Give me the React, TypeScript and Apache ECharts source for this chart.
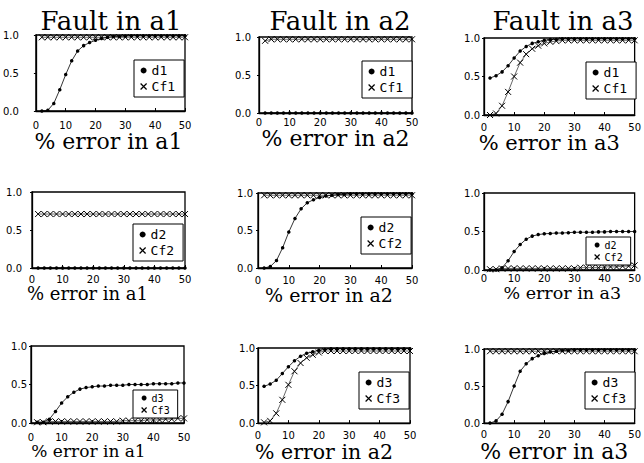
import React, { useEffect, useRef } from "react";
import * as echarts from "echarts";

// % error (x positions of the samples)
const X = [2, 4, 6, 8, 10, 12, 14, 16, 18, 20, 22, 24, 26, 28, 30, 32, 34, 36, 38, 40, 42, 44, 46, 48, 50];

// Row 1 : d1 / Cf1
const A1_D1 = [0.0, 0.01, 0.1, 0.28, 0.48, 0.66, 0.79, 0.86, 0.9, 0.93, 0.955, 0.97, 0.98, 0.98, 0.985, 0.99, 0.99, 0.99, 0.99, 0.99, 0.99, 0.99, 0.99, 0.99, 0.99];
const A1_CF1 = [0.97, 0.97, 0.97, 0.97, 0.97, 0.97, 0.97, 0.97, 0.97, 0.97, 0.97, 0.97, 0.97, 0.97, 0.97, 0.97, 0.97, 0.97, 0.97, 0.97, 0.97, 0.97, 0.97, 0.97, 0.97];
const A2_D1 = [0, 0, 0, 0, 0, 0, 0, 0, 0, 0, 0, 0, 0, 0, 0, 0, 0, 0, 0, 0, 0, 0, 0, 0, 0];
const A2_CF1 = [0.95, 0.97, 0.97, 0.97, 0.97, 0.97, 0.97, 0.97, 0.97, 0.97, 0.97, 0.97, 0.97, 0.97, 0.97, 0.97, 0.97, 0.97, 0.97, 0.97, 0.97, 0.97, 0.97, 0.97, 0.97];
const A3_D1 = [0.48, 0.51, 0.56, 0.64, 0.74, 0.83, 0.89, 0.93, 0.95, 0.97, 0.98, 0.98, 0.99, 0.99, 0.99, 0.99, 0.99, 0.99, 0.99, 0.99, 0.99, 0.99, 0.99, 0.99, 0.99];
const A3_CF1 = [0.0, 0.02, 0.12, 0.3, 0.5, 0.68, 0.79, 0.86, 0.9, 0.93, 0.95, 0.96, 0.97, 0.97, 0.97, 0.97, 0.97, 0.97, 0.97, 0.97, 0.97, 0.97, 0.97, 0.97, 0.97];

// Row 2 : d2 / Cf2
const A1_D2 = [0, 0, 0, 0, 0, 0, 0, 0, 0, 0, 0, 0, 0, 0, 0, 0, 0, 0, 0, 0, 0, 0, 0, 0, 0];
const A1_CF2 = [0.71, 0.71, 0.71, 0.71, 0.71, 0.71, 0.71, 0.71, 0.71, 0.71, 0.71, 0.71, 0.71, 0.71, 0.71, 0.71, 0.71, 0.71, 0.71, 0.71, 0.71, 0.71, 0.71, 0.71, 0.71];
const A2_D2 = [0.0, 0.02, 0.1, 0.27, 0.48, 0.66, 0.79, 0.87, 0.91, 0.94, 0.96, 0.97, 0.98, 0.98, 0.99, 0.99, 0.99, 0.99, 0.99, 0.99, 0.99, 0.99, 0.99, 0.99, 0.99];
const A2_CF2 = [0.97, 0.97, 0.97, 0.97, 0.97, 0.97, 0.97, 0.97, 0.97, 0.97, 0.97, 0.97, 0.97, 0.97, 0.97, 0.97, 0.97, 0.97, 0.97, 0.97, 0.97, 0.97, 0.97, 0.97, 0.97];
const A3_D2 = [0.0, 0.0, 0.03, 0.12, 0.24, 0.33, 0.4, 0.44, 0.46, 0.47, 0.475, 0.48, 0.48, 0.485, 0.49, 0.49, 0.49, 0.49, 0.495, 0.495, 0.5, 0.5, 0.5, 0.5, 0.5];
const A3_CF2 = [0.01, 0.01, 0.02, 0.02, 0.02, 0.02, 0.02, 0.02, 0.02, 0.02, 0.02, 0.02, 0.02, 0.02, 0.02, 0.03, 0.03, 0.03, 0.03, 0.04, 0.04, 0.04, 0.05, 0.05, 0.06];

// Row 3 : d3 / Cf3
const A1_D3 = [0.01, 0.01, 0.05, 0.15, 0.26, 0.34, 0.4, 0.44, 0.46, 0.47, 0.48, 0.48, 0.49, 0.49, 0.49, 0.5, 0.5, 0.5, 0.5, 0.51, 0.51, 0.51, 0.51, 0.52, 0.52];
const A1_CF3 = [0.01, 0.01, 0.02, 0.02, 0.02, 0.02, 0.02, 0.02, 0.02, 0.02, 0.02, 0.02, 0.02, 0.02, 0.03, 0.03, 0.03, 0.03, 0.04, 0.04, 0.04, 0.05, 0.05, 0.06, 0.06];
const A2_D3 = [0.49, 0.52, 0.57, 0.66, 0.75, 0.83, 0.89, 0.93, 0.95, 0.97, 0.98, 0.99, 0.99, 0.99, 0.99, 0.99, 0.99, 0.99, 0.99, 0.99, 0.99, 0.99, 0.99, 0.99, 0.99];
const A2_CF3 = [0.01, 0.03, 0.13, 0.31, 0.51, 0.69, 0.8, 0.87, 0.91, 0.94, 0.96, 0.96, 0.96, 0.96, 0.96, 0.96, 0.96, 0.96, 0.96, 0.96, 0.96, 0.96, 0.96, 0.96, 0.96];
const A3_D3 = [0.0, 0.03, 0.12, 0.29, 0.5, 0.7, 0.8, 0.87, 0.91, 0.94, 0.96, 0.97, 0.98, 0.98, 0.99, 0.99, 0.99, 0.99, 0.99, 0.99, 0.99, 0.99, 0.99, 0.99, 0.99];
const A3_CF3 = [0.97, 0.97, 0.97, 0.97, 0.97, 0.97, 0.97, 0.97, 0.97, 0.97, 0.97, 0.97, 0.97, 0.97, 0.97, 0.97, 0.97, 0.97, 0.97, 0.97, 0.97, 0.97, 0.97, 0.97, 0.97];

const TITLES = ["Fault in a1", "Fault in a2", "Fault in a3"];
const X_NAMES = ["% error in a1", "% error in a2", "% error in a3"];
const D_NAMES = ["d1", "d2", "d3"];
const CF_NAMES = ["Cf1", "Cf2", "Cf3"];
const D_DATA = [
  [A1_D1, A2_D1, A3_D1],
  [A1_D2, A2_D2, A3_D2],
  [A1_D3, A2_D3, A3_D3],
];
const CF_DATA = [
  [A1_CF1, A2_CF1, A3_CF1],
  [A1_CF2, A2_CF2, A3_CF2],
  [A1_CF3, A2_CF3, A3_CF3],
];

// layout per panel (row-major): grid box, legend corner, label margins, axis-name gap/size/shift, legend font
const LAYOUT = [
  { g: [32, 35, 153, 76], lg: [134, 60], ym: 17, xm: 9, ng: 23, nf: 22, nx: -2, lf: 13 },
  { g: [259, 37, 153, 76], lg: [362, 61], ym: 8, xm: 4, ng: 21, nf: 22, nx: 0, lf: 13 },
  { g: [484, 38, 156, 77], lg: [586, 62], ym: 4, xm: 7, ng: 20, nf: 21, nx: -10, lf: 13 },
  { g: [32, 192, 153, 76], lg: [133, 224], ym: 10, xm: 6, ng: 25, nf: 18, nx: -21, lf: 13 },
  { g: [258, 193, 154, 75], lg: [361, 217], ym: 5, xm: 7, ng: 24, nf: 19, nx: -6, lf: 13 },
  { g: [484, 193, 154, 77], lg: [586, 237], ym: 4, xm: 3, ng: 20, nf: 17.5, nx: 3, lf: 10 },
  { g: [31, 346, 153, 77], lg: [133, 390], ym: 4, xm: 9, ng: 24, nf: 17, nx: -19, lf: 10 },
  { g: [258, 348, 152, 78], lg: [359, 372], ym: 3, xm: 7, ng: 24, nf: 20.5, nx: -10, lf: 13 },
  { g: [484, 349, 151, 78], lg: [585, 372], ym: 4, xm: 6, ng: 20, nf: 22, nx: -5, lf: 13 },
];
const TITLE_X = [111, 340, 563];

const CROSS = "path://M0,0L10,10M10,0L0,10";

export default function App() {
  const ref = useRef<HTMLDivElement>(null);
  useEffect(() => {
    if (!ref.current) return;
    const chart = echarts.init(ref.current, null, { renderer: "svg" });
    const grid: any[] = [];
    const xAxis: any[] = [];
    const yAxis: any[] = [];
    const series: any[] = [];
    const legend: any[] = [];
    for (let r = 0; r < 3; r++) {
      for (let c = 0; c < 3; c++) {
        const i = r * 3 + c;
        const L = LAYOUT[i];
        grid.push({
          left: L.g[0], top: L.g[1], width: L.g[2], height: L.g[3],
          show: true, borderColor: "#000", borderWidth: 1.3, backgroundColor: "transparent",
        });
        const shift = L.nx;
        xAxis.push({
          type: "value", gridIndex: i, min: 0, max: 50, interval: 10,
          axisLine: { show: true, lineStyle: { color: "#000", width: 1.3 } },
          axisTick: { show: true, inside: true, length: 3, lineStyle: { color: "#000" } },
          splitLine: { show: false },
          axisLabel: { color: "#000", fontFamily: "DejaVu Sans", fontSize: 10, margin: L.xm },
          name: X_NAMES[c], nameLocation: "middle", nameGap: L.ng,
          nameTextStyle: {
            fontFamily: "DejaVu Serif", fontSize: L.nf, color: "#000", verticalAlign: "middle",
            padding: shift < 0 ? [0, -2 * shift, 0, 0] : [0, 0, 0, 2 * shift],
          },
        });
        yAxis.push({
          type: "value", gridIndex: i, min: 0, max: 1, interval: 0.5,
          axisLine: { show: true, lineStyle: { color: "#000", width: 1.3 } },
          axisTick: { show: true, inside: false, length: 2, lineStyle: { color: "#000" } },
          splitLine: { show: false },
          axisLabel: {
            color: "#000", fontFamily: "DejaVu Sans", fontSize: 10, margin: L.ym,
            formatter: (v: number) => v.toFixed(1),
          },
        });
        const dn = D_NAMES[r];
        const cn = CF_NAMES[r];
        series.push({
          type: "line", name: dn, xAxisIndex: i, yAxisIndex: i,
          data: X.map((x, j) => [x, D_DATA[r][c][j]]),
          symbol: "circle", symbolSize: 3.5, showSymbol: true,
          lineStyle: { color: "#000", width: 0.8 },
          itemStyle: { color: "#000" },
          z: 3,
        });
        series.push({
          type: "line", name: cn, xAxisIndex: i, yAxisIndex: i,
          data: X.map((x, j) => [x, CF_DATA[r][c][j]]),
          symbol: CROSS, symbolSize: 6, showSymbol: true,
          lineStyle: { color: "#000", width: 0.6 },
          itemStyle: { color: "#000", borderColor: "#000", borderWidth: 1 },
          z: 2,
        });
        const small = L.lf < 12;
        legend.push({
          orient: "vertical", left: L.lg[0], top: L.lg[1],
          padding: small ? [3, 8, 3, 8] : [4, 9, 4, 6], itemGap: small ? 2 : 3,
          itemWidth: small ? 5 : 6, itemHeight: small ? 5 : 6,
          backgroundColor: "#fff", borderColor: "#000", borderWidth: 1, borderRadius: 0,
          selectedMode: false,
          textStyle: { fontFamily: "DejaVu Sans Mono", fontSize: L.lf, color: "#000" },
          data: [
            { name: dn, icon: "circle", itemStyle: { color: "#000" } },
            { name: cn, icon: CROSS, itemStyle: { color: "#000", borderColor: "#000", borderWidth: 1.2 } },
          ],
        });
      }
    }
    const title = TITLES.map((t, c) => ({
      text: t, left: TITLE_X[c], top: 8, textAlign: "center", padding: 0,
      textStyle: { fontFamily: "DejaVu Serif", fontSize: 26, fontWeight: "normal", color: "#000" },
    }));
    chart.setOption({
      animation: false,
      backgroundColor: "#fff",
      title, grid, xAxis, yAxis, series, legend,
    });
    return () => chart.dispose();
  }, []);
  return (
    <div
      ref={ref}
      style={{ position: "fixed", left: 0, top: 0, width: 644, height: 463, background: "#fff" }}
    />
  );
}
